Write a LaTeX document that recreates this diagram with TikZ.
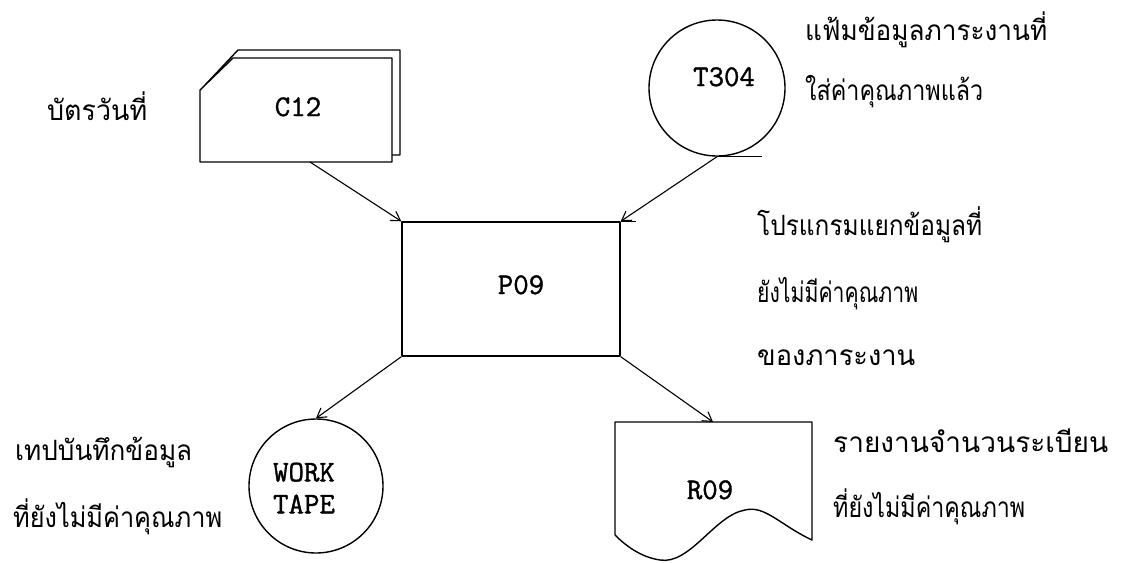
\documentclass[tikz,border=0pt]{standalone}
\usepackage{fontspec}
\newfontfamily\thai[Script=Thai]{Loma}
\newfontfamily\codefont[FakeBold=1.3]{Latin Modern Mono}
\newcommand\thw[2]{\resizebox{#1pt}{\height}{#2}}
\usetikzlibrary{arrows.meta}
\begin{document}
\begin{tikzpicture}[x=1pt,y=-1pt,
  thtext/.style={anchor=base west, inner sep=0pt, font=\thai\fontsize{28}{30}\selectfont},
  code/.style={anchor=base, inner sep=0pt, align=center, font=\codefont\fontsize{30}{32}\selectfont},
  flow/.style={-{Straight Barb[length=9pt,width=11pt]}, line width=1.1pt},
  outline/.style={draw, line width=1.4pt, line join=round}]
\useasboundingbox[fill=white] (0,0) rectangle (1121,562);

% C12 card deck
\draw[outline] (206,84) -- (238,50) -- (400,50) -- (400,155) -- (392,155);
\draw[outline, fill=white] (200,90) -- (233,58) -- (392,58) -- (392,162) -- (200,162) -- cycle;
\node[code] (c12) at (298,116) {C12};
\coordinate (c12out) at (310,162);

% T304 tape
\node[outline, circle, minimum size=136pt, inner sep=0pt] (t304) at (717,88) {};
\node[code] (t304t) at (724,86) {T304};
\draw[outline] (t304.south) -- ++(45,0) coordinate (t304tail);

% P09 process
\node[outline, rectangle, minimum width=218pt, minimum height=134pt, inner sep=0pt] (p09) at (511,289) {};
\node[code] (p09t) at (521,294) {P09};
\draw[outline] (p09.north east) -- ++(15,0) coordinate (p09over);

% WORK TAPE
\node[outline, circle, minimum size=134pt, inner sep=0pt] (work) at (316,486) {};
\node[code, anchor=center] (workt) at (304,488) {WORK\\TAPE};

% R09 document
\draw[outline] (615,535) -- (615,422) coordinate (r09nw) -- (812,422) coordinate (r09ne) -- (812,540)
  .. controls (780,525) and (765,505) .. (745,510)
  .. controls (715,515) and (690,565) .. (660,560)
  .. controls (640,557) and (625,545) .. (615,535);
\coordinate (r09in) at (713,422);
\node[code] (r09t) at (710,499) {R09};

% connectors
\draw[flow] (c12out) -- (p09.north west);
\draw[flow] (t304.south) -- (p09.north east);
\draw[flow] (p09.south west) -- (work.north);
\draw[flow] (p09.south east) -- (r09in);

% Thai captions
\node[thtext] (l1) at (47,120) {\thw{100}{บัตรวันที่}};
\node[thtext] (l2) at (805,40) {\thw{242}{แฟ้มข้อมูลภาระงานที่}};
\node[thtext] (l3) at (805,100) {\thw{178}{ใส่ค่าคุณภาพแล้ว}};
\node[thtext] (l4) at (757,235) {\thw{225}{โปรแกรมแยกข้อมูลที่}};
\node[thtext] (l5) at (757,302) {\thw{161}{ยังไม่มีค่าคุณภาพ}};
\node[thtext] (l6) at (757,365) {\thw{158}{ของภาระงาน}};
\node[thtext] (l7) at (15,460) {\thw{177}{เทปบันทึกข้อมูล}};
\node[thtext] (l8) at (13,527) {\thw{209}{ที่ยังไม่มีค่าคุณภาพ}};
\node[thtext] (l9) at (833,452) {\thw{275}{รายงานจำนวนระเบียน}};
\node[thtext] (l10) at (833,517) {\thw{192}{ที่ยังไม่มีค่าคุณภาพ}};
\end{tikzpicture}
\end{document}
